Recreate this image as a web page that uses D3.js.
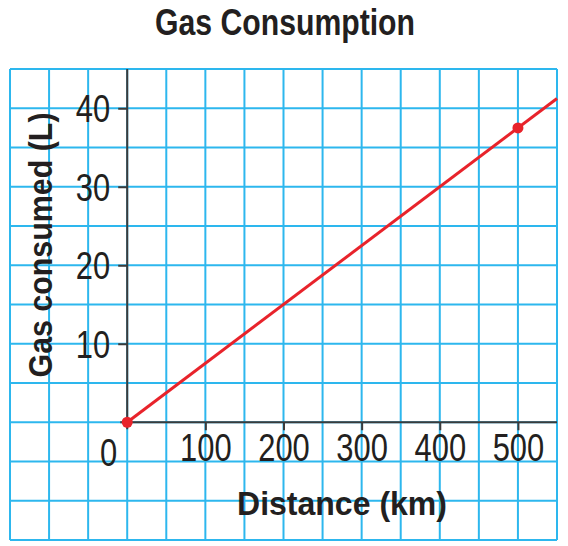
<!DOCTYPE html>
<html>
<head>
<meta charset="utf-8">
<script src="https://cdn.jsdelivr.net/npm/d3@7"></script>
<style>
  body { margin: 0; background: #fff; }
  svg text { font-family: "Liberation Sans Narrow", "Arial Narrow", "Liberation Sans", sans-serif; fill: #231f20; }
</style>
</head>
<body>
<svg id="chart" width="568" height="546"></svg>
<script>
// data

let distanceTicks = [100, 200, 300, 400, 500];
let gasTicks = [10, 20, 30, 40];

// red line runs to the right edge of the grid
let lineDistance = [0, 550];
let lineGas = [0, 41.25];

// plotted points
let pointDistance = [0, 500];
let pointGas = [0, 37.5];

// scales

let x = d3.scaleLinear().domain([-150, 550]).range([10, 557]);
let y = d3.scaleLinear().domain([-15, 45]).range([540, 69]);

let svg = d3.select('#chart');

// narrow digits, like the condensed face of the print
let digitWidth = 17.2;
let squeeze = (sel) => sel
    .attr('textLength', (d) => String(d).length * digitWidth)
    .attr('lengthAdjust', 'spacingAndGlyphs');

// grid

let grid = svg.append('g').attr('class', 'grid');
let gridColor = '#2db7ee';

grid.selectAll('.vline')
    .data(d3.range(-150, 551, 50))
    .enter()
    .append('line')
    .attr('x1', (d) => x(d))
    .attr('x2', (d) => x(d))
    .attr('y1', y(45))
    .attr('y2', y(-15))
    .style('stroke', gridColor)
    .style('stroke-width', 2);

grid.selectAll('.hline')
    .data(d3.range(-15, 46, 5))
    .enter()
    .append('line')
    .attr('x1', x(-150))
    .attr('x2', x(550))
    .attr('y1', (d) => y(d))
    .attr('y2', (d) => y(d))
    .style('stroke', gridColor)
    .style('stroke-width', 2);

// axes

let axisColor = '#3b3b3b';

let yAxis = svg.append('g')
    .attr('transform', `translate(${x(0)},0)`)
    .call(d3.axisLeft(y).tickValues(gasTicks).tickSize(9).tickSizeOuter(0).tickPadding(9));

let xAxis = svg.append('g')
    .attr('transform', `translate(0,${y(0)})`)
    .call(d3.axisBottom(x).tickValues(distanceTicks).tickSize(8).tickSizeOuter(0).tickPadding(3));

[yAxis, xAxis].forEach((ax) => {
    ax.select('.domain').remove();
    ax.attr('font-family', null).attr('font-size', null);
    ax.selectAll('line').style('stroke', axisColor).style('stroke-width', 2);
    ax.selectAll('text').style('font-size', '38px').style('fill', '#231f20').call(squeeze);
});

yAxis.selectAll('text').attr('x', -17).attr('dy', '0.36em');
xAxis.selectAll('text').attr('dy', '0.74em');

// axis lines
svg.append('line')
    .attr('x1', x(0)).attr('x2', x(0))
    .attr('y1', y(45)).attr('y2', y(0) + 7)
    .style('stroke', axisColor).style('stroke-width', 2);

svg.append('line')
    .attr('x1', x(0) - 7).attr('x2', x(550))
    .attr('y1', y(0)).attr('y2', y(0))
    .style('stroke', axisColor).style('stroke-width', 2);

// origin label
svg.append('text')
    .datum(0)
    .attr('x', x(0) - 10)
    .attr('y', y(0) + 44)
    .attr('text-anchor', 'end')
    .style('font-size', '38px')
    .call(squeeze)
    .text('0');

// data line

let line = d3.line()
    .x((d) => x(d[0]))
    .y((d) => y(d[1]));

svg.append('path')
    .datum(d3.zip(lineDistance, lineGas))
    .attr('d', line)
    .attr('fill', 'none')
    .style('stroke', '#e8232b')
    .style('stroke-width', 3);

svg.selectAll('.pt')
    .data(d3.zip(pointDistance, pointGas))
    .enter()
    .append('circle')
    .attr('cx', (d) => x(d[0]))
    .attr('cy', (d) => y(d[1]))
    .attr('r', 5.5)
    .attr('fill', '#e8232b');

// titles

svg.append('text')
    .attr('x', 285)
    .attr('y', 35)
    .attr('text-anchor', 'middle')
    .attr('textLength', 260)
    .attr('lengthAdjust', 'spacingAndGlyphs')
    .style('font-size', '36px')
    .style('font-weight', 'bold')
    .text('Gas Consumption');

svg.append('text')
    .attr('x', 342)
    .attr('y', 515)
    .attr('text-anchor', 'middle')
    .attr('textLength', 210)
    .attr('lengthAdjust', 'spacingAndGlyphs')
    .style('font-size', '34px')
    .style('font-weight', 'bold')
    .text('Distance (km)');

svg.append('text')
    .attr('transform', 'translate(52,245) rotate(-90)')
    .attr('text-anchor', 'middle')
    .attr('textLength', 265)
    .attr('lengthAdjust', 'spacingAndGlyphs')
    .style('font-size', '34px')
    .style('font-weight', 'bold')
    .text('Gas consumed (L)');
</script>
</body>
</html>
